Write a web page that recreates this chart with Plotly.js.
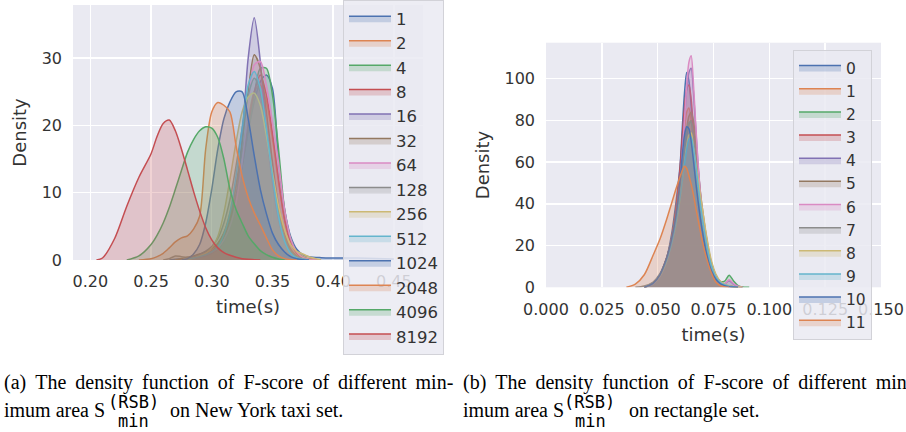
<!DOCTYPE html>
<html>
<head>
<meta charset="utf-8">
<script src="https://cdn.plot.ly/plotly-3.0.1.min.js"></script>
<style>
  html, body { margin: 0; padding: 0; background: #ffffff; }
  #chart { width: 906px; height: 432px; }
</style>
</head>
<body>
<div id="chart"></div>
<script>
// ---------------- Data: (a) New York taxi set ----------------
const taxiLabels = ['1', '2', '4', '8', '16', '32', '64', '128', '256', '512', '1024', '2048', '4096', '8192'];
const taxiTime = [0.205, 0.210, 0.220, 0.230, 0.240, 0.250, 0.255, 0.260, 0.265, 0.270, 0.275, 0.280, 0.285, 0.290, 0.295, 0.300, 0.305, 0.310, 0.315, 0.320, 0.325, 0.330, 0.335, 0.340, 0.345, 0.350, 0.355, 0.360, 0.365, 0.370, 0.375, 0.380, 0.390, 0.400, 0.420, 0.450];
const taxiDensity1    = [null,null,null,null,null,null,null,null,0,0.1,0.2,0.3,0.4,0.6,0.8,1.2,2,3.5,6,9.5,14,19,23.5,26.5,27.5,25.5,15,7.5,3.5,1.6,0.8,0.5,0.35,0.3,0.28,0.15];
const taxiDensity2    = [null,null,null,null,null,null,null,null,null,0,0.1,0.2,0.3,0.5,0.8,1.3,2.3,4,7,11,16,21,25,26,23.5,18,11.5,6,2.8,1.2,0.5,0.2,0,null,null,null];
const taxiDensity4    = [null,null,null,null,null,null,null,null,null,null,0,0.2,0.3,0.5,0.8,1.2,2,3.5,6,9.5,14,19.5,24.5,28.5,28.5,24.5,16.5,7.5,3.2,1.2,0.4,0.1,0,null,null,null];
const taxiDensity8    = [null,null,null,null,null,null,null,null,null,null,0,0.2,0.4,0.6,0.9,1.3,2,3.5,6,9.5,14,20,25,27.5,24.5,18.8,12,6,2.5,1,0.3,0.1,0,null,null,null];
const taxiDensity16   = [null,null,null,null,null,null,null,null,null,null,0,0.1,0.2,0.4,0.6,1,1.6,2.8,5,9,18,30,36,29.5,19,11.5,6,2.8,1.1,0.4,0.1,0,null,null,null,null];
const taxiDensity32   = [null,null,null,null,null,null,null,null,null,0,0.2,0.4,0.6,0.9,1.2,1.7,2.5,4,6.5,11,17.5,25,30.5,28.5,22,14.5,8,3.8,1.6,0.6,0.2,0,null,null,null,null];
const taxiDensity64   = [null,null,null,null,null,null,null,null,null,null,0,0.2,0.3,0.5,0.8,1.2,1.8,3,5,8.5,14.5,22.5,29,29.5,26,20.5,14.5,7.5,3.2,1.2,0.4,0.1,0,null,null,null];
const taxiDensity128  = [null,null,null,null,null,null,null,0,0.2,0.6,0.5,0.4,0.5,0.8,1.3,2,3.2,5.5,9,14,19.5,24.5,27,25,19.5,13,7,3.2,1.3,0.5,0.2,0,null,null,null,null];
const taxiDensity256  = [null,null,null,null,null,null,null,null,null,null,null,0,0.3,0.6,1,1.8,3.5,7,12,17.5,22,24.2,24.8,23,18.5,13,8,4.5,2.3,1.3,0.9,0.5,0,null,null,null];
const taxiDensity512  = [null,null,null,null,null,null,null,null,null,null,0,0.2,0.3,0.5,0.8,1.2,2,3.8,7,12.5,19.5,26,28,25.5,19.5,12.5,6.5,2.8,1,0.3,0.1,0,null,null,null,null];
const taxiDensity1024 = [null,null,null,null,null,null,null,null,null,null,0,0.2,0.9,2.3,5.5,10.5,16.5,21,23.5,25,25,21,15.5,10.5,6.9,4,2.3,1.2,0.5,0.2,0.05,0,null,null,null,null];
const taxiDensity2048 = [null,null,null,null,0,0.2,0.5,1,1.8,2.7,3.3,3.6,4.6,6.5,16.5,22,23.4,23,22,17,12.5,9.3,7,5.2,3.3,1.5,0.6,0.2,0.05,0,null,null,null,null,null,null];
const taxiDensity4096 = [null,null,null,0,0.6,2.3,3.7,5.5,7.8,10.5,13.3,16,17.9,19.2,19.8,19.6,18.2,15,10.5,7.5,5.5,3.6,2.4,1.4,0.8,0.4,0.15,0,null,null,null,null,null,null,null,null];
const taxiDensity8192 = [0,0.3,3.2,8,12.3,15.8,18.4,20.3,20.8,19.2,16.5,13.4,10.2,7.3,4.8,3,1.8,1.1,0.7,0.4,0.2,0.1,0.05,0,null,null,null,null,null,null,null,null,null,null,null,null];
const taxiTickVals = [0.20, 0.25, 0.30, 0.35, 0.40, 0.45];
const taxiTickText = ['0.20', '0.25', '0.30', '0.35', '0.40', '0.45'];
const taxiDensityTicks = [0, 10, 20, 30];

// ---------------- Data: (b) rectangle set ----------------
const rectLabels = ['0', '1', '2', '3', '4', '5', '6', '7', '8', '9', '10', '11'];
const rectTime = [0.036, 0.040, 0.044, 0.048, 0.051, 0.054, 0.056, 0.058, 0.060, 0.061, 0.062, 0.063, 0.064, 0.065, 0.066, 0.067, 0.068, 0.069, 0.070, 0.072, 0.074, 0.076, 0.078, 0.080, 0.082, 0.084, 0.086, 0.088, 0.091];
const rectDensity0  = [null,null,0,2,6,14,24,39,58,76,93,103,99,87,72,58,46,36,28,16,8.5,4,2,1,0.5,0.2,0,null,null];
const rectDensity1  = [null,null,0,1.8,5.5,13,22,35,52,64,76,84,86,80,68,56,46,37,29,17,9,4.5,2.2,1,0.4,0.1,0,null,null];
const rectDensity2  = [null,null,0,1.5,5,12,20,32,47,56,65,73,78,80,75,65,54,44,35,21,11,5,2.8,3,5.8,3,0.8,0.1,0];
const rectDensity3  = [null,null,0,1.8,5.5,13,22,36,57,72,86,95,97,90,76,61,48,38,30,17,9,4.2,2,1,0.5,0.2,0,null,null];
const rectDensity4  = [null,null,0,2,6,14,22,34,52,66,81,95,103,105,94,77,60,46,35,19,9.5,4.5,2.2,1.6,3.2,1.5,0.4,0,null];
const rectDensity5  = [null,null,0,2,6,14,22,33,47,57,67,76,82,84,80,70,58,47,38,23,12,6,2.8,1.3,0.6,0.3,0.1,0,null];
const rectDensity6  = [null,null,0,1.5,5,12,20,31,49,63,80,97,108,111,98,79,61,47,36,20,10,5,2.5,1.8,3.6,1.8,0.5,0,null];
const rectDensity7  = [null,0,0.6,2.5,6.5,14,22,32,47,57,66,74,79,79,72,61,50,40,32,18.5,9.5,4.5,2.2,1.1,0.5,0.2,0,null,null];
const rectDensity8  = [null,null,0,2,5.5,12.5,20,29,42,51,60,68,73,74,67,60,53,45,38,24,13,6.5,3,1.5,0.7,0.3,0.1,0,null];
const rectDensity9  = [null,null,0,2,6,13,20,30,43,51,59,66,71,72,67,59,50,41,33,20,10.5,5,2.4,1.2,0.5,0.2,0,null,null];
const rectDensity10 = [null,null,0,2,6,14,22,33,51,63,73,77,76,70,61,51,42,34,27,15.5,8,4,1.8,0.8,0.3,0.1,0,null,null];
const rectDensity11 = [0,1.5,6,15.5,23,32.5,39.5,46.5,53,56,58,57,53.5,49.5,44.5,38.5,33,27.5,22,13.5,7,2.5,0.8,0.2,0,null,null,null,null];
const rectTickVals = [0, 0.025, 0.05, 0.075, 0.1, 0.125, 0.15];
const rectTickText = ['0.000', '0.025', '0.050', '0.075', '0.100', '0.125', '0.150'];
const rectDensityTicks = [0, 20, 40, 60, 80, 100];

// ---------------- Texts ----------------
const xTitle = 'time(s)';
const yTitle = 'Density';
const captionA1 = '(a) \u2009The \u2009density \u2009function \u2009of \u2009F-score \u2009of \u2009different \u2009min-';
const captionB1 = '(b) \u2009The \u2009density \u2009function \u2009of \u2009F-score \u2009of \u2009different \u2009min-';
const captionLead = 'imum area S';
const captionSup = '(RSB)';
const captionSub = 'min';
const captionA2 = 'on New York taxi set.';
const captionB2 = 'on rectangle set.';

// ---------------- Styles ----------------
const palette = ['#4c72b0', '#dd8452', '#55a868', '#c44e52', '#8172b3', '#937860', '#da8bc3', '#8c8c8c', '#ccb974', '#64b5cd'];
const textColor = '#333333';
const tickFont = { family: 'DejaVu Sans, sans-serif', size: 16, color: textColor };
const titleFont = { family: 'DejaVu Sans, sans-serif', size: 18, color: textColor };
const W = 906, H = 432;

function rgba(hex, a) {
  const r = parseInt(hex.slice(1, 3), 16), g = parseInt(hex.slice(3, 5), 16), b = parseInt(hex.slice(5, 7), 16);
  return 'rgba(' + r + ',' + g + ',' + b + ',' + a + ')';
}

function kdeTrace(xs, ys, name, color, xa, ya, legendId) {
  const px = [], py = [];
  for (let i = 0; i < xs.length; i++) {
    if (ys[i] !== null) { px.push(xs[i]); py.push(ys[i]); }
  }
  return {
    type: 'scatter', mode: 'lines', x: px, y: py, name: name,
    xaxis: xa, yaxis: ya, legend: legendId,
    fill: 'tozeroy', fillcolor: rgba(color, 0.25),
    line: { color: color, width: 1.5, shape: 'spline', smoothing: 0.8 },
    hoverinfo: 'skip'
  };
}

const taxiSeries = [taxiDensity1, taxiDensity2, taxiDensity4, taxiDensity8, taxiDensity16, taxiDensity32, taxiDensity64,
  taxiDensity128, taxiDensity256, taxiDensity512, taxiDensity1024, taxiDensity2048, taxiDensity4096, taxiDensity8192];
const rectSeries = [rectDensity0, rectDensity1, rectDensity2, rectDensity3, rectDensity4, rectDensity5, rectDensity6,
  rectDensity7, rectDensity8, rectDensity9, rectDensity10, rectDensity11];

const traces = [];
taxiSeries.forEach((ys, i) => traces.push(kdeTrace(taxiTime, ys, taxiLabels[i], palette[i % palette.length], 'x', 'y', 'legend')));
rectSeries.forEach((ys, i) => traces.push(kdeTrace(rectTime, ys, rectLabels[i], palette[i % palette.length], 'x2', 'y2', 'legend2')));

function px(x) { return x / W; }
function py(y) { return 1 - y / H; }

const axisCommon = {
  showgrid: true, gridcolor: '#ffffff', gridwidth: 1.4,
  zeroline: false, showline: false, ticks: '',
  tickfont: tickFont, automargin: false, fixedrange: true
};

const legendCommon = {
  xanchor: 'left', yanchor: 'top', xref: 'paper', yref: 'paper',
  bgcolor: 'rgba(234,234,242,0.85)', bordercolor: '#d2d2d8', borderwidth: 1,
  itemwidth: 42, tracegroupgap: 0, itemclick: false, itemdoubleclick: false
};

const serif = { family: 'Liberation Serif, Times New Roman, serif', size: 20, color: '#000000' };
const mono = { family: 'DejaVu Sans Mono, monospace', size: 17, color: '#000000' };

function ann(text, x, y, font, xanchor) {
  return { text: text, x: px(x), y: py(y), xref: 'paper', yref: 'paper', xanchor: xanchor || 'left', yanchor: 'middle', showarrow: false, font: font };
}

const annotations = [
  ann(captionA1, 2, 382, serif),
  ann(captionB1, 461, 382, serif),
  ann(captionLead, 2, 410, serif),
  ann(captionLead, 461, 410, serif),
  ann(captionSup, 133, 402, mono, 'center'),
  ann(captionSub, 133, 421, mono, 'center'),
  ann(captionSup, 589, 402, mono, 'center'),
  ann(captionSub, 590, 421, mono, 'center'),
  ann(captionA2, 168, 410, serif),
  ann(captionB2, 627, 410, serif)
];

const layout = {
  width: W, height: H,
  margin: { l: 0, r: 0, t: 0, b: 0, autoexpand: false },
  paper_bgcolor: '#ffffff', plot_bgcolor: '#eaeaf2',
  showlegend: true,
  xaxis: Object.assign({}, axisCommon, {
    domain: [px(73), px(423)], range: [0.1857, 0.474], anchor: 'y',
    tickmode: 'array', tickvals: taxiTickVals, ticktext: taxiTickText,
    ticklabelstandoff: 10,
    title: { text: xTitle, font: titleFont, standoff: 10 }
  }),
  yaxis: Object.assign({}, axisCommon, {
    domain: [py(260), py(5)], range: [0, 37.9], anchor: 'x',
    tickmode: 'array', tickvals: taxiDensityTicks, ticktext: taxiDensityTicks.map(String),
    ticklabelstandoff: 10,
    title: { text: yTitle, font: titleFont, standoff: 10 }
  }),
  xaxis2: Object.assign({}, axisCommon, {
    domain: [px(546), px(881)], range: [0, 0.15], anchor: 'y2',
    tickmode: 'array', tickvals: rectTickVals, ticktext: rectTickText,
    ticklabelstandoff: 11,
    title: { text: xTitle, font: titleFont, standoff: 10 }
  }),
  yaxis2: Object.assign({}, axisCommon, {
    domain: [py(287.3), py(42.7)], range: [0, 117.3], anchor: 'x2',
    tickmode: 'array', tickvals: rectDensityTicks, ticktext: rectDensityTicks.map(String),
    ticklabelstandoff: 10,
    title: { text: yTitle, font: titleFont, standoff: 10 }
  }),
  legend: Object.assign({}, legendCommon, { x: px(343), y: py(0),
    font: { family: 'DejaVu Sans, sans-serif', size: 16.5, color: textColor } }),
  legend2: Object.assign({}, legendCommon, { x: px(793), y: py(50),
    font: { family: 'DejaVu Sans, sans-serif', size: 15.5, color: textColor } }),
  annotations: annotations
};

Plotly.newPlot('chart', traces, layout, { displayModeBar: false, staticPlot: true });
</script>
</body>
</html>
